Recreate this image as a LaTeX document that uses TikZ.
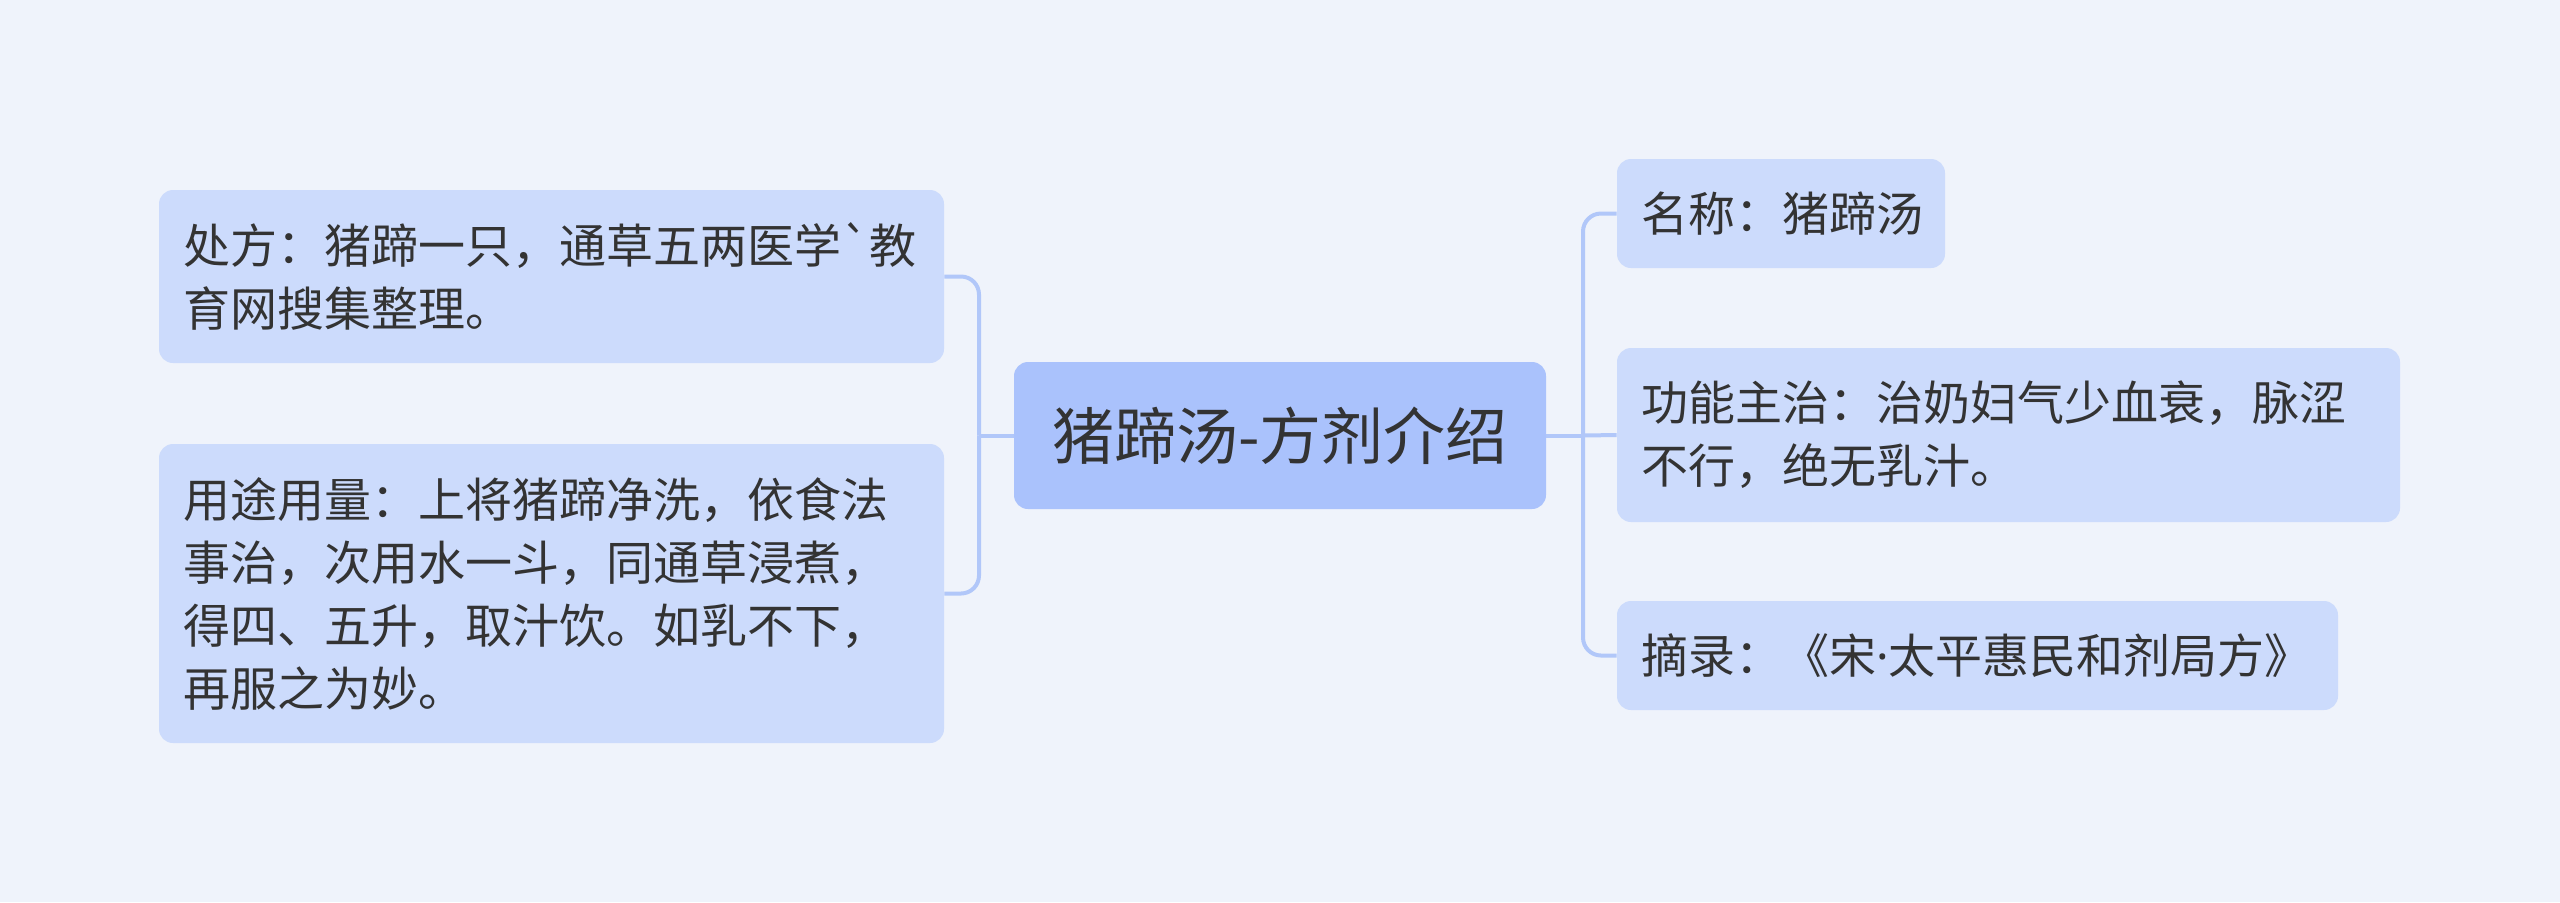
\documentclass[tikz,border=0pt]{standalone}
\usepackage{fontspec}
\newfontfamily\cjk{Noto Sans CJK SC}
\newfontfamily\latinf{Noto Sans}
\definecolor{bgc}{HTML}{EFF3FB}
\definecolor{childfill}{HTML}{CCDBFC}
\definecolor{rootfill}{HTML}{AAC2FC}
\definecolor{linec}{HTML}{B1C7F9}
\definecolor{txt}{HTML}{333333}
\begin{document}
\begin{tikzpicture}[x=0.5pt,y=-0.5pt,
  child/.style={rounded corners=7pt, fill=childfill, inner xsep=12pt, inner ysep=0pt,
    align=left, text=txt, font=\cjk\fontsize{23.5pt}{31.5pt}\selectfont},
  rootbox/.style={rounded corners=7pt, fill=rootfill, inner sep=0pt, align=center,
    text=txt, font=\cjk\fontsize{31pt}{38pt}\selectfont},
  conn/.style={draw=linec, line width=2pt, rounded corners=9pt}]
\fill[bgc] (0,0) rectangle (2560,902);
\useasboundingbox (0,0) rectangle (2560,902);
\node[rootbox, minimum width=266pt, minimum height=73.5pt] (C) at (1280,435.5) {猪蹄汤-方剂介绍};
\node[child, text width=368.5pt, minimum height=86.5pt] (L1) at (551.5,276.5)
  {处方：猪蹄一只，通草五两医学\symbol{96}教\\育网搜集整理。};
\node[child, text width=368.5pt, minimum height=149.5pt] (L2) at (551.5,593.5)
  {用途用量：上将猪蹄净洗，依食法\\事治，次用水一斗，同通草浸煮，\\得四、五升，取汁饮。如乳不下，\\再服之为妙。};
\node[child, text width=140pt, minimum height=54.5pt] (R1) at (1781,213.5) {名称：猪蹄汤};
\node[child, text width=367.5pt, minimum height=87pt] (R2) at (2008.5,435) {功能主治：治奶妇气少血衰，脉涩\\不行，绝无乳汁。};
\node[child, text width=336.5pt, minimum height=54.5pt] (R3) at (1977.5,655.5) {摘录：《宋{\latinf ·}太平惠民和剂局方》};
\coordinate (lj) at (979,435.5);
\coordinate (rj) at (1583,435.5);
\draw[conn] (C.west) -- (lj);
\draw[conn] (lj) |- (L1.east);
\draw[conn] (lj) |- (L2.east);
\draw[conn] (C.east) -- (rj);
\draw[conn] (rj) |- (R1.west);
\draw[conn] (rj) -- (R2.west);
\draw[conn] (rj) |- (R3.west);
\end{tikzpicture}
\end{document}
